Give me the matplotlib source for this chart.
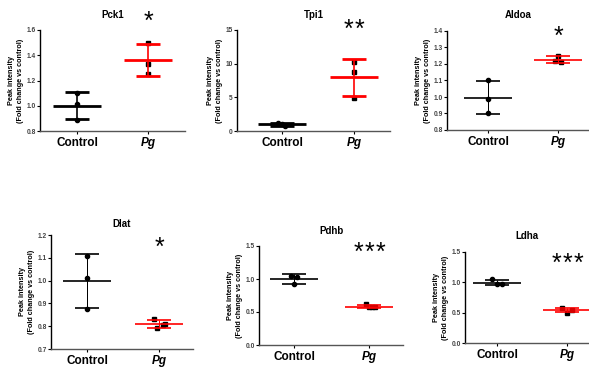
import numpy as np
import matplotlib
matplotlib.use("Agg")
import matplotlib.pyplot as plt

plt.rcParams['font.family'] = ['Liberation Sans', 'DejaVu Sans']

groups = ['Control', 'Pg']
genes = ['Pck1', 'Tpi1', 'Aldoa', 'Dlat', 'Pdhb', 'Ldha']
n_stars = [1, 2, 1, 1, 3, 3]

control_vals = [
    [1.10, 1.01, 0.89],
    [1.20, 1.00, 0.80],
    [1.10, 0.99, 0.90],
    [1.11, 1.01, 0.875],
    [1.05, 1.03, 0.92],
    [1.05, 0.97, 0.97],
]
pg_vals = [
    [1.50, 1.33, 1.25],
    [10.3, 8.7, 4.9],
    [1.25, 1.22, 1.21],
    [0.83, 0.79, 0.805, 0.81],
    [0.62, 0.57, 0.57, 0.57],
    [0.57, 0.50, 0.55],
]
ylims = [(0.8, 1.6), (0, 15), (0.8, 1.4), (0.7, 1.2), (0, 1.5), (0, 1.5)]
yticks = [
    [0.8, 1.0, 1.2, 1.4, 1.6],
    [0, 5, 10, 15],
    [0.8, 0.9, 1.0, 1.1, 1.2, 1.3, 1.4],
    [0.7, 0.8, 0.9, 1.0, 1.1, 1.2],
    [0.0, 0.5, 1.0, 1.5],
    [0.0, 0.5, 1.0, 1.5],
]

W, H = 589, 369
# pixel boxes: left, right, top, bottom, control x, pg x, star y, title pad
boxes = [
    (40, 185, 30, 131, 77, 148, 16, 9),
    (237, 390, 30, 131, 282, 354, 24, 9),
    (447, 589, 31, 130, 488, 558, 31, 9),
    (51, 193, 235, 349, 87, 159, 242, 6),
    (259, 403, 246, 345, 294, 369, 247, 9),
    (465, 589, 252, 343, 497, 567, 258, 9),
]
ctrl_jit = [[0, 0, 0], [-4, 0, 3], [0, 0, 0], [0, 0, 0], [-3, 3, 0], [-5, 0, 5]]
pg_jit = [[0, 0, 0], [0, 0, 0], [0, -3, 3], [-5, -2, 4, 6], [-3, 0, 3, 6], [-5, 0, 5]]
lws = [2.0, 2.0, 1.2, 1.2, 1.2, 1.2]
tick_fmt = ['{:.1f}', '{:g}', '{:.1f}', '{:.1f}', '{:.1f}', '{:.1f}']

fig = plt.figure(figsize=(W / 100, H / 100), dpi=100)

for i, g in enumerate(genes):
    l, r, t, b, cx, px, sy, tpad = boxes[i]
    ax = fig.add_axes([l / W, 1 - b / H, (r - l) / W, (b - t) / H])
    # data units per pixel on x, with control at 0 and pg at 1
    upp = 1.0 / (px - cx)
    ax.set_xlim(-(cx - l) * upp, 1 + (r - px) * upp)
    ax.set_ylim(*ylims[i])
    for j, (vals, col, mk, jit) in enumerate([
            (control_vals[i], 'black', 'o', ctrl_jit[i]),
            (pg_vals[i], 'red', 's', pg_jit[i])]):
        v = np.array(vals)
        m, sd = v.mean(), v.std(ddof=1)
        xs = j + np.array(jit) * upp
        ax.plot(xs, v, mk, color='black', ms=3.0, zorder=3)
        ax.hlines(m, j - 24 * upp, j + 24 * upp, color=col, lw=lws[i], zorder=4)
        ax.hlines([m - sd, m + sd], j - 12 * upp, j + 12 * upp, color=col, lw=lws[i], zorder=4)
        ax.vlines(j, m - sd, m + sd, color=col, lw=lws[i] * 0.6, zorder=4)
    ax.spines['top'].set_visible(False)
    ax.spines['right'].set_visible(False)
    ax.spines['left'].set_linewidth(1.0)
    ax.spines['bottom'].set_linewidth(1.0)
    ax.spines['bottom'].set_color('#555555')
    ax.set_xticks([0, 1])
    ax.set_xticklabels(groups, fontsize=8.5, fontweight='bold')
    ax.get_xticklabels()[1].set_fontstyle('italic')
    ax.set_yticks(yticks[i])
    ax.set_yticklabels([tick_fmt[i].format(v) for v in yticks[i]], fontsize=4.8,
                       fontweight='bold', color='#444444')
    ax.tick_params(axis='y', length=2, width=0.8, pad=1)
    ax.tick_params(axis='x', length=2, width=0.8, pad=2, colors='black')
    ax.set_ylabel('Peak intensity\n(Fold change vs control)', fontsize=5.2,
                  fontweight='bold', labelpad=2, linespacing=1.4)
    ax.set_title(g, fontsize=7, fontweight='bold', pad=tpad)
    # significance stars, 11 px apart, centred over Pg
    y0, y1 = ylims[i]
    ys = y1 - (sy + 6 - t) * (y1 - y0) / (b - t)
    n = n_stars[i]
    for k in range(n):
        xk = 1 + (k - (n - 1) / 2) * 11 * upp
        ax.text(xk, ys, '*', ha='center', va='center', fontsize=18,
                transform=ax.transData, clip_on=False)

fig.savefig('out.png', dpi=100)
